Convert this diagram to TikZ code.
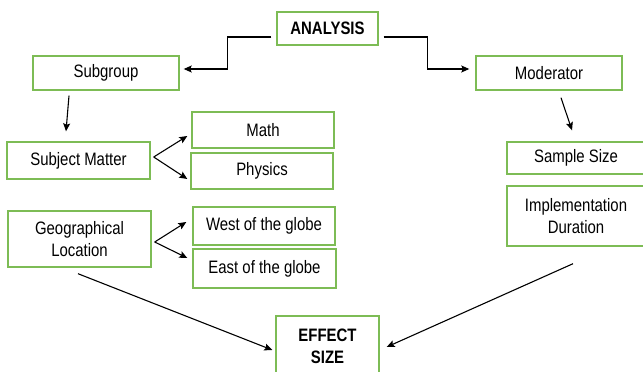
\documentclass[tikz,border=0pt]{standalone}
\usepackage{fontspec}
\setmainfont{Liberation Sans}[FakeStretch=0.83]
\usetikzlibrary{arrows.meta,calc}
\definecolor{boxgreen}{RGB}{125,188,85}
\tikzset{
  box/.style={draw=boxgreen, line width=1.4pt, align=center, inner sep=0pt,
    font=\fontsize{18}{22}\selectfont, text=black},
  arr/.style={draw=black, line width=1.1pt, -{Stealth[length=8pt,width=7pt,inset=1.5pt]}},
}
\begin{document}
\begin{tikzpicture}[x=1pt,y=-1pt]
\useasboundingbox (0,0) rectangle (643,372);
\clip (0,0) rectangle (643,372);
\node[box, minimum width=101pt, minimum height=33pt, font=\fontsize{18}{22}\selectfont\bfseries] (A) at (327.5,28.5) {ANALYSIS};
\node[box, minimum width=146pt, minimum height=34pt] (SG) at (106,73) {Subgroup};
\node[box, minimum width=146pt, minimum height=34pt] (MO) at (549,73) {Moderator};
\node[box, minimum width=143pt, minimum height=37pt] (SM) at (78.5,160.5) {Subject Matter};
\node[box, minimum width=142pt, minimum height=36pt] (MA) at (263,130) {Math};
\node[box, minimum width=142pt, minimum height=36pt] (PH) at (262,171) {Physics};
\node[box, minimum width=143pt, minimum height=56pt] (GE) at (79.5,239) {Geographical\\Location};
\node[box, minimum width=142pt, minimum height=38pt] (WE) at (264,226) {West of the globe};
\node[box, minimum width=143pt, minimum height=39pt] (EA) at (264.5,268.5) {East of the globe};
\node[box, minimum width=138pt, minimum height=32pt] (SS) at (576,158) {Sample Size};
\node[box, minimum width=138pt, minimum height=60pt] (ID) at (576,216) {Implementation\\Duration};
\node[box, minimum width=103pt, minimum height=60pt, font=\fontsize{18}{22}\selectfont\bfseries] (EF) at (327.5,346) {EFFECT\\SIZE};

\draw[arr] ($(A.west)+(-5,8.5)$) -- ++(-44,0) |- ($(SG.east)+(4,-4)$);
\draw[arr] ($(A.east)+(5,8.5)$) -- ++(44,0) |- ($(MO.west)+(-6,-4)$);
\draw[arr] ($(SG.south)+(-37,5)$) -- ($(SM.north)+(-12.5,-10)$);
\draw[arr] ($(MO.south)+(12,7)$) -- ($(SS.north)+(-4,-11)$);
\draw[arr] ($(SM.east)+(3,-3.5)$) -- ($(MA.west)+(-4,6)$);
\draw[arr] ($(SM.east)+(3,-3.5)$) -- ($(PH.west)+(-3,8)$);
\draw[arr] ($(GE.east)+(3,3)$) -- ($(WE.west)+(-6,-4)$);
\draw[arr] ($(GE.east)+(3,3)$) -- ($(EA.west)+(-5,-10.5)$);
\draw[arr] ($(GE.south)+(-1.5,6)$) -- ($(EF.west)+(-3,4)$);
\draw[arr] ($(ID.south)+(-3,17)$) -- ($(EF.east)+(7,1)$);
\end{tikzpicture}
\end{document}
